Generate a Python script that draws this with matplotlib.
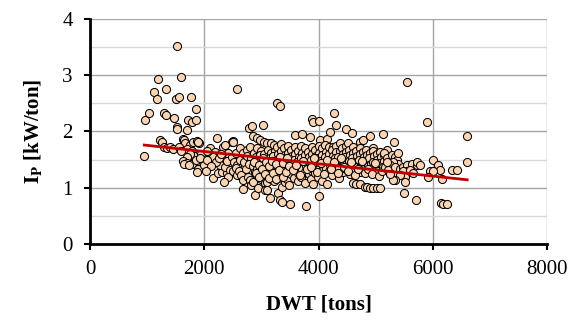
import matplotlib
matplotlib.use("Agg")
import matplotlib.pyplot as plt
import numpy as np

# sparse group on the left (small ships)
dwt_left = [950, 963, 1033, 1120, 1173, 1190, 1330, 1300, 1330, 1470, 1505, 1517, 1558, 1593,
            1520, 1520, 1698, 1715, 1785, 1855, 1768, 1855,
            1225, 1260, 1300, 1350, 1400, 1453, 1628, 1640, 1663, 1750, 1803, 1873, 1908, 1890,
            1700, 1780, 1820, 1750, 1700, 1630, 1700, 1790, 1890, 1980, 2000, 1650, 1730, 1873,
            1560, 1600, 1850, 1950, 1920]
ip_left = [1.56, 2.20, 2.32, 2.71, 2.57, 2.93, 2.75, 2.33, 2.29, 2.24, 2.57, 3.52, 2.61, 2.97,
           2.08, 2.04, 2.03, 2.20, 2.17, 2.20, 2.61, 2.40,
           1.85, 1.81, 1.72, 1.70, 1.73, 1.69, 1.87, 1.85, 1.80, 1.76, 1.81, 1.83, 1.80, 1.81,
           1.69, 1.66, 1.57, 1.60, 1.55, 1.48, 1.44, 1.42, 1.33, 1.45, 1.41, 1.42, 1.40, 1.28,
           1.72, 1.65, 1.50, 1.60, 1.52]

dwt_2k = [2100, 2188, 2328, 2415, 2150, 2240, 2310, 2398, 2275, 2363, 2503, 2485, 2363, 2150,
          2050, 2200, 2250, 2450, 2430, 2050, 2120, 2300, 2400, 2420, 2350, 2573, 2780, 2030, 2230]
ip_2k = [1.71, 1.64, 1.73, 1.62, 1.17, 1.26, 1.28, 1.26, 1.40, 1.37, 1.83, 1.81, 1.76, 1.55,
         1.50, 1.45, 1.52, 1.32, 1.55, 1.65, 1.38, 1.60, 1.48, 1.20, 1.10, 2.75, 2.06, 1.30, 1.88]

# dense band 2500-3500 t
dwt_3k = [2500, 2490, 2520, 2510, 2560, 2570, 2550, 2580, 2620, 2630, 2610, 2640,
          2680, 2690, 2670, 2683, 2740, 2750, 2730, 2760,
          2800, 2810, 2790, 2800, 2820, 2830, 2860, 2870, 2850, 2880, 2858, 2888,
          2920, 2930, 2910, 2940, 2925, 2915, 2946, 2980, 2990, 2970, 3000, 2985, 2975, 2995,
          3040, 3033, 3050, 3030, 3060, 3045, 3035, 3055, 3063,
          3100, 3110, 3090, 3120, 3105, 3095, 3115, 3100,
          3160, 3170, 3150, 3180, 3165, 3155, 3175, 3150, 3092,
          3220, 3230, 3210, 3240, 3225, 3215, 3235, 3220,
          3280, 3290, 3270, 3300, 3285, 3275, 3295, 3296, 3267,
          3340, 3350, 3330, 3360, 3345, 3335, 3355, 3325, 3325,
          3400, 3410, 3390, 3420, 3405, 3395, 3415, 3354,
          3460, 3470, 3450, 3480, 3465, 3455, 3475]
ip_3k = [1.82, 1.55, 1.45, 1.29, 1.62, 1.40, 1.35, 1.23, 1.70, 1.50, 1.30, 1.23,
         1.61, 1.45, 1.14, 0.97, 1.67, 1.56, 1.34, 1.20,
         1.73, 1.52, 1.43, 1.14, 1.05, 2.09, 1.92, 1.62, 1.38, 1.28, 1.11, 0.88,
         1.88, 1.70, 1.55, 1.47, 1.33, 1.22, 0.99, 1.84, 1.65, 1.58, 1.42, 1.36, 1.25, 1.15,
         1.81, 2.12, 1.60, 1.50, 1.40, 1.30, 1.18, 1.08, 0.96,
         1.79, 1.68, 1.55, 1.45, 1.37, 1.28, 1.20, 1.10,
         1.79, 1.62, 1.52, 1.43, 1.33, 1.24, 1.15, 0.81, 0.96,
         1.76, 1.66, 1.57, 1.48, 1.39, 1.30, 1.21, 1.12,
         1.73, 1.60, 1.50, 1.42, 1.35, 1.26, 1.18, 0.90, 2.50,
         1.78, 1.65, 1.54, 1.46, 1.38, 1.29, 1.02, 0.78, 2.45,
         1.70, 1.58, 1.49, 1.40, 1.32, 1.22, 1.10, 0.75,
         1.74, 1.62, 1.52, 1.44, 1.34, 1.15, 1.05]

# dense band 3500-4500 t
dwt_4k = [3520, 3530, 3510, 3540, 3525, 3500,
          3587, 3580, 3590, 3570, 3600, 3585, 3575,
          3640, 3650, 3630, 3660, 3645, 3635,
          3704, 3700, 3710, 3690, 3720, 3705, 3695,
          3760, 3770, 3750, 3780, 3765, 3755, 3780,
          3850, 3820, 3830, 3810, 3840, 3825,
          3878, 3880, 3890, 3870, 3900, 3885, 3875, 3908,
          3908, 3940, 3950, 3930, 3960, 3945,
          4013, 4025, 4000, 4010, 3990, 4020, 4005, 3995, 4013,
          4060, 4070, 4050, 4080, 4065, 4055,
          4141, 4120, 4130, 4110, 4140, 4125, 4142,
          4200, 4180, 4190, 4170, 4200, 4185,
          4258, 4240, 4250, 4230, 4260, 4245,
          4270, 4305, 4300, 4310, 4290, 4320, 4305,
          4375, 4370, 4350, 4380, 4365, 4355,
          4420, 4430, 4410, 4440, 4425,
          4490, 4480, 4490, 4470, 4500, 4485]
ip_4k = [1.68, 1.56, 1.47, 1.37, 1.25, 0.72,
         1.94, 1.72, 1.60, 1.50, 1.41, 1.30, 1.18,
         1.66, 1.55, 1.46, 1.36, 1.27, 1.12,
         1.96, 1.75, 1.62, 1.52, 1.42, 1.33, 1.20,
         1.70, 1.58, 1.48, 1.38, 1.28, 1.08, 0.67,
         1.91, 1.64, 1.54, 1.44, 1.35, 1.24,
         2.23, 1.72, 1.60, 1.50, 1.41, 1.30, 1.15, 1.06,
         2.16, 1.68, 1.56, 1.46, 1.37, 1.26,
         2.19, 1.85, 1.74, 1.62, 1.52, 1.43, 1.33, 1.20, 0.86,
         1.70, 1.58, 1.48, 1.39, 1.29, 1.12,
         1.86, 1.76, 1.64, 1.54, 1.45, 1.35, 1.06,
         1.99, 1.72, 1.60, 1.50, 1.40, 1.30,
         1.73, 1.68, 1.56, 1.47, 1.36, 1.22,
         2.33, 2.12, 1.74, 1.63, 1.52, 1.42, 1.32,
         1.79, 1.66, 1.55, 1.45, 1.35, 1.18,
         1.70, 1.60, 1.49, 1.40, 1.28,
         2.04, 1.75, 1.64, 1.54, 1.44, 1.33]

# dense band 4500-5200 t
dwt_5k = [4578, 4520, 4540, 4550, 4530, 4560, 4545,
          4600, 4610, 4590, 4620, 4605, 4608,
          4660, 4670, 4650, 4680, 4665,
          4725, 4720, 4730, 4710, 4740, 4725, 4725,
          4783, 4780, 4790, 4770, 4800, 4813,
          4840, 4850, 4830, 4860, 4845,
          4900, 4910, 4890, 4920, 4905, 4900,
          4958, 4960, 4970, 4950, 4980, 4960,
          5020, 5030, 5010, 5040, 5016,
          5080, 5090, 5070, 5075,
          5133, 5140, 5150, 5130, 5191]
ip_5k = [1.98, 1.79, 1.68, 1.58, 1.48, 1.38, 1.25,
         1.72, 1.62, 1.52, 1.42, 1.30, 1.08,
         1.66, 1.56, 1.46, 1.36, 1.07,
         1.82, 1.70, 1.60, 1.50, 1.40, 1.28, 1.06,
         1.85, 1.64, 1.54, 1.44, 1.34, 1.02,
         1.68, 1.58, 1.48, 1.38, 1.02,
         1.92, 1.62, 1.52, 1.42, 1.30, 1.00,
         1.70, 1.66, 1.56, 1.46, 1.36, 1.00,
         1.60, 1.50, 1.40, 1.30, 0.99,
         1.64, 1.54, 1.44, 0.99,
         1.96, 1.58, 1.48, 1.37, 1.68]

# extra points filling the core of the band
dwt_core = [2870, 2905, 2950, 2965, 3010, 3025, 3070, 3085, 3130, 3140,
            3190, 3200, 3250, 3260, 3310, 3320, 3370, 3380, 3430, 3440,
            3490, 3550, 3610, 3670, 3730, 3790, 3860, 3920, 3980, 4040,
            4095, 4155, 4215, 4275, 4335, 4395, 4455, 4515, 4570, 4635,
            4695, 4755, 4815, 4875, 4935, 4995, 5055, 5110]
ip_core = [1.46, 1.27, 1.40, 1.19, 1.33, 1.52, 1.24, 1.46, 1.38, 1.18,
           1.48, 1.27, 1.43, 1.16, 1.31, 1.55, 1.20, 1.44, 1.28, 1.52,
           1.39, 1.31, 1.41, 1.22, 1.47, 1.33, 1.37, 1.52, 1.28, 1.44,
           1.24, 1.49, 1.33, 1.45, 1.27, 1.52, 1.36, 1.30, 1.46, 1.22,
           1.34, 1.47, 1.27, 1.33, 1.24, 1.44, 1.21, 1.30]

# right group (largest ships)
dwt_right = [5145, 5192, 5279, 5337, 5367, 5396, 5308, 5250, 5162, 5221, 5337, 5425, 5483,
             5541, 5629, 5716, 5541, 5483, 5512, 5425, 5337, 5512, 5308, 5495, 5705, 5320,
             5548, 5892, 6603, 6603, 6008, 6096, 6125, 5950, 6008, 5921, 6154, 6329, 6433,
             6142, 6183, 6242, 5716, 5775, 5600, 5658, 5250, 5200, 5400]
ip_right = [1.61, 1.52, 1.58, 1.55, 1.49, 1.43, 1.46, 1.40, 1.37, 1.31, 1.37, 1.34, 1.37,
            1.40, 1.43, 1.40, 1.29, 1.29, 1.20, 1.23, 1.14, 1.11, 1.14, 0.91, 0.79, 1.82,
            2.88, 2.16, 1.92, 1.45, 1.49, 1.40, 1.31, 1.29, 1.29, 1.20, 1.15, 1.31, 1.31,
            0.73, 0.72, 0.72, 1.46, 1.40, 1.31, 1.26, 1.25, 1.45, 1.62]

# linear trend: Ip = slope * DWT + intercept
trend_slope = -1.093e-4
trend_intercept = 1.863

dwt = np.array(dwt_left + dwt_2k + dwt_3k + dwt_4k + dwt_5k + dwt_core + dwt_right, dtype=float)
ip = np.array(ip_left + ip_2k + ip_3k + ip_4k + ip_5k + ip_core + ip_right, dtype=float)

plt.rcParams["font.family"] = ["Liberation Serif", "DejaVu Serif"]
plt.rcParams["mathtext.fontset"] = "stix"

fig = plt.figure(figsize=(5.78, 3.23), dpi=100)
ax = fig.add_axes([90 / 578, 1 - 244 / 323, 457 / 578, 225 / 323])

ax.scatter(dwt, ip, s=34, facecolor="#fbd4b4", edgecolor="black",
           linewidths=0.75, zorder=3)

xs = np.array([dwt.min(), dwt.max()])
ax.plot(xs, trend_slope * xs + trend_intercept, color="#c00000", lw=2.0, zorder=4)

ax.set_xlim(0, 8000)
ax.set_ylim(0, 4)
ax.set_xticks([0, 2000, 4000, 6000, 8000])
ax.set_yticks([0, 1, 2, 3, 4])
ax.set_yticks(np.arange(0.5, 4, 1.0), minor=True)
ax.grid(which="major", color="#a6a6a6", lw=1.0, zorder=0)
ax.grid(which="minor", axis="y", color="#d9d9d9", lw=1.0, zorder=0)
ax.tick_params(which="minor", length=0)
ax.tick_params(which="major", direction="out", length=4.5, width=1.5, labelsize=15)
ax.tick_params(axis="y", pad=8)
ax.tick_params(axis="x", pad=7)
for s in ["top", "right"]:
    ax.spines[s].set_visible(False)
for s in ["left", "bottom"]:
    ax.spines[s].set_linewidth(2)
ax.set_axisbelow(True)

ax.set_xlabel("DWT [tons]", fontsize=15, fontweight="bold", labelpad=11)
ax.set_ylabel(r"$\mathbf{I_P}$ [kW/ton]", fontsize=15, fontweight="bold", labelpad=13)

fig.savefig("out.png", dpi=100)
